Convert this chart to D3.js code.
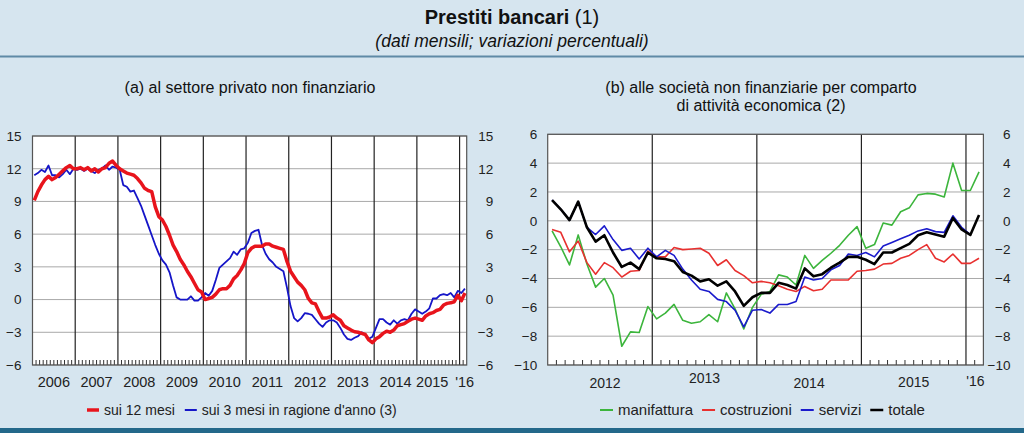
<!DOCTYPE html>
<html><head><meta charset="utf-8">
<script src="https://cdn.jsdelivr.net/npm/d3@7"></script>
<style>
html,body{margin:0;padding:0;background:#d6e5ef;}
svg{display:block;font-family:"Liberation Sans",Arial,sans-serif;}
</style></head>
<body><svg id="c" width="1024" height="433"></svg>
<script>
// ---------- DATA ----------
const leftYears = ["2006","2007","2008","2009","2010","2011","2012","2013","2014","2015","'16"];
const leftTicks = [-6,-3,0,3,6,9,12,15];
const leftSeriesNames = ["sui 12 mesi","sui 3 mesi in ragione d'anno (3)"];
// monthly, Jan 2006 - Feb 2016
const red12 = [
 9.1, 9.9,10.5,11.0,11.3,11.0,11.2,11.5,11.8,12.1,12.3,12.0,
 12.0,12.1,11.9,12.1,11.8,12.0,11.7,12.0,12.1,12.5,12.7,12.3,
 12.0,11.8,11.6,11.5,11.4,11.1,10.7,10.2,10.0, 9.9, 8.5, 7.6,
 7.3, 6.7, 5.9, 5.0, 4.4, 3.7, 3.2, 2.6, 2.1, 1.5, 0.9, 0.7,
 0.0, 0.1, 0.2, 0.5, 0.9, 1.0, 1.0, 1.3, 1.9, 2.2, 2.7, 3.3,
 4.3, 4.7, 4.9, 4.9, 4.9, 5.1, 5.1, 4.9, 4.8, 4.7, 4.6, 3.5,
 2.6, 2.1, 1.6, 1.3, 0.9, 0.1,-0.3,-0.4,-1.1,-1.7,-1.7,-1.6,
 -1.4,-1.7,-1.9,-2.4,-2.6,-2.8,-2.95,-3.0,-3.1,-3.2,-3.7,-3.95,
 -3.6,-3.4,-3.1,-2.9,-3.0,-2.8,-2.4,-2.3,-2.2,-2.0,-1.8,-1.7,
 -1.8,-1.9,-1.5,-1.3,-1.2,-1.0,-0.9,-0.5,-0.35,-0.3,-0.2,0.4,
 -0.1, 0.6];
const blue3 = [
 11.4,11.6,11.9,11.7,12.3,11.4,11.4,11.2,11.5,11.9,11.5,12.0,
 11.9,12.0,11.8,12.0,11.8,11.6,11.9,12.0,12.3,11.9,12.2,12.1,
 11.9,10.5,10.35,9.9,10.0, 9.3, 8.6, 7.7, 6.8, 5.9, 5.0, 4.2,
 3.6, 3.2, 2.5, 1.3, 0.2, 0.0, 0.0, 0.0, 0.3,-0.1,-0.1, 0.2,
 0.6, 0.35,0.8, 1.8, 2.9, 3.2, 3.5, 3.8, 4.4, 4.1, 4.6, 4.7,
 5.2, 6.1, 6.3, 6.4, 5.0, 4.2, 3.7, 3.4, 3.0, 2.8, 2.6, 1.1,
 -0.6,-1.7,-2.0,-1.7,-1.25,-1.3,-1.4,-1.8,-2.2,-2.5,-2.1,-1.9,
 -1.9,-2.1,-2.6,-3.2,-3.6,-3.7,-3.5,-3.35,-3.0,-3.2,-3.6,-3.4,
 -2.6,-1.8,-1.8,-2.1,-2.3,-1.9,-2.2,-1.9,-1.8,-1.9,-1.3,-0.9,
 -1.1,-1.3,-1.1,-0.8, 0.1, 0.1, 0.4, 0.5, 0.4, 0.6, 0.2, 0.8,
 0.6, 1.0];

const rightYears = ["2012","2013","2014","2015","'16"];
const rightTicks = [-10,-8,-6,-4,-2,0,2,4,6];
const rightSeriesNames = ["manifattura","costruzioni","servizi","totale"];
// monthly, Jan 2012 - Feb 2016
const manifattura = [
 -0.7,-1.8,-3.06,-0.98,-3.0,-4.6,-4.0,-5.15,-8.7,-7.7,-7.75,-5.95,
 -6.8,-6.4,-5.8,-6.9,-7.1,-7.0,-6.5,-7.0,-5.0,-6.1,-7.5,-6.0,
 -5.1,-4.9,-3.75,-3.9,-4.45,-2.4,-3.3,-2.75,-2.25,-1.7,-1.0,-0.4,
 -1.9,-1.65,-0.15,-0.3,0.63,0.9,1.8,1.9,1.85,1.65,4.0,2.1,
 2.1,3.4];
const costruzioni = [
 -0.6,-0.8,-2.15,-1.4,-2.9,-3.7,-2.9,-3.25,-3.9,-3.5,-3.45,-2.1,
 -2.5,-2.5,-1.85,-2.0,-1.95,-1.9,-2.25,-3.1,-2.7,-3.45,-3.8,-4.3,
 -4.2,-4.3,-4.5,-4.75,-4.9,-4.55,-4.85,-4.75,-4.1,-4.1,-4.1,-3.5,
 -3.45,-3.35,-3.0,-2.95,-2.6,-2.4,-2.0,-1.65,-2.6,-2.85,-2.3,-2.95,
 -2.95,-2.6];
const servizi = [
 1.44,0.8,0.05,1.33,-0.45,-0.95,-0.35,-1.3,-2.05,-1.9,-2.65,-1.9,
 -2.5,-2.05,-2.4,-3.35,-4.1,-4.75,-4.9,-5.45,-5.6,-6.2,-7.35,-6.2,
 -6.15,-6.4,-5.8,-5.8,-5.6,-3.9,-4.1,-4.0,-3.4,-3.1,-2.3,-2.4,
 -2.2,-2.5,-1.75,-1.5,-1.25,-1.0,-0.7,-0.55,-0.75,-0.8,0.35,-0.45,
 -0.95];
const totale = [
 1.44,0.8,0.05,1.33,-0.45,-1.44,-1.0,-2.2,-3.2,-2.9,-3.35,-2.2,
 -2.6,-2.65,-2.8,-3.55,-3.8,-4.2,-4.05,-4.5,-4.2,-4.9,-5.9,-5.3,
 -5.0,-5.0,-4.3,-4.45,-4.7,-3.3,-3.85,-3.7,-3.25,-2.9,-2.5,-2.5,
 -2.7,-3.0,-2.2,-2.2,-1.9,-1.6,-1.0,-0.8,-0.95,-1.1,0.2,-0.6,
 -0.98,0.4];

// ---------- DRAW ----------
const svg = d3.select("#c");
const FONT = "Liberation Sans, Arial, sans-serif";
svg.append("rect").attr("width",1024).attr("height",433).attr("fill","#d6e5ef");
svg.append("line").attr("x1",0).attr("x2",1024).attr("y1",56.5).attr("y2",56.5).attr("stroke","#5f8aa6").attr("stroke-width",2);
svg.append("rect").attr("x",0).attr("y",428).attr("width",1024).attr("height",5).attr("fill","#23688a");

const title = svg.append("text").attr("x",512).attr("y",24).attr("text-anchor","middle").attr("font-size",20).attr("fill","#111");
title.append("tspan").attr("font-weight","bold").text("Prestiti bancari");
title.append("tspan").text(" (1)");
svg.append("text").attr("x",512).attr("y",47).attr("text-anchor","middle").attr("font-size",17.5).attr("font-style","italic").attr("fill","#111")
  .text("(dati mensili; variazioni percentuali)");

svg.append("text").attr("x",250).attr("y",93).attr("text-anchor","middle").attr("font-size",16).attr("fill","#111")
  .text("(a) al settore privato non finanziario");
svg.append("text").attr("x",761).attr("y",93).attr("text-anchor","middle").attr("font-size",16).attr("fill","#111")
  .text("(b) alle società non finanziarie per comparto");
svg.append("text").attr("x",761).attr("y",111).attr("text-anchor","middle").attr("font-size",16).attr("fill","#111")
  .text("di attività economica (2)");

function panel(cfg){
  const {x0,x1,y0,y1,nMonths,ymin,ymax,ticks,years,series,labelL,labelR,yearDy,yearDx} = cfg;
  const x = d3.scaleLinear().domain([0,nMonths]).range([x0,x1]);
  const y = d3.scaleLinear().domain([ymin,ymax]).range([y1,y0]);
  const g = svg.append("g");
  g.append("rect").attr("x",x0).attr("y",y0).attr("width",x1-x0).attr("height",y1-y0).attr("fill","#fff");
  g.append("g").selectAll("line").data(ticks).join("line")
    .attr("x1",x0).attr("x2",x1).attr("y1",d=>y(d)).attr("y2",d=>y(d))
    .attr("stroke","#a9a9a9").attr("stroke-width",1);
  const months = d3.range(1,nMonths);
  g.append("g").selectAll("line").data(months.filter(m=>m%12!==0)).join("line")
    .attr("x1",d=>x(d)).attr("x2",d=>x(d)).attr("y1",y1).attr("y2",y1-5)
    .attr("stroke","#333").attr("stroke-width",1);
  g.append("g").selectAll("line").data(months.filter(m=>m%12===0)).join("line")
    .attr("x1",d=>x(d)).attr("x2",d=>x(d)).attr("y1",y0).attr("y2",y1)
    .attr("stroke","#222").attr("stroke-width",1.2);
  g.append("rect").attr("x",x0).attr("y",y0).attr("width",x1-x0).attr("height",y1-y0)
    .attr("fill","none").attr("stroke","#555").attr("stroke-width",1.2);
  const aL = d3.axisLeft(y).tickValues(ticks).tickSize(0).tickPadding(labelL).tickFormat(d3.format("d"));
  const gl = g.append("g").attr("transform",`translate(${x0},0)`).call(aL);
  const aR = d3.axisRight(y).tickValues(ticks).tickSize(0).tickFormat(d3.format("d"));
  const gr = g.append("g").attr("transform",`translate(${x1},0)`).call(aR);
  gr.selectAll("text").attr("x",labelR).attr("text-anchor","end");
  [gl,gr].forEach(a=>{ a.select(".domain").remove(); a.selectAll("text").attr("font-size",13.5).attr("font-family",FONT).attr("fill","#222"); });
  g.append("g").selectAll("text").data(years).join("text")
    .attr("x",(d,i)=> x(Math.min(i*12+6,nMonths)) + (yearDx?yearDx[i]:0))
    .attr("y",(d,i)=>y1+22+(yearDy?yearDy[i]:0))
    .attr("text-anchor","middle").attr("font-size",cfg.yearFont).attr("fill","#222").text(d=>d);
  series.forEach(s=>{
    const line = d3.line().x((d,i)=>x(i+0.5)).y(d=>y(d));
    g.append("path").datum(s.values).attr("d",line).attr("fill","none")
      .attr("stroke",s.color).attr("stroke-width",s.w).attr("stroke-linejoin","round");
  });
}

panel({x0:32.5,x1:466.7,y0:136,y1:365,nMonths:122,ymin:-6,ymax:15,ticks:leftTicks,years:leftYears,
  labelL:11,labelR:26.5,yearFont:14.5,yearDx:[0,0,0,0,0,0,0,0,0,-6,-2],
  series:[{values:blue3,color:"#1515c8",w:1.8},{values:red12,color:"#e8141c",w:3.5}]});
panel({x0:547.7,x1:983.4,y0:134.3,y1:365,nMonths:50,ymin:-10,ymax:6,ticks:rightTicks,years:rightYears,
  labelL:10.5,labelR:27,yearDy:[1,-4,1,0,-1],yearDx:[5,0,0,0,-8],yearFont:14,
  series:[{values:manifattura,color:"#3cb53c",w:1.6},{values:costruzioni,color:"#e8302f",w:1.6},
          {values:servizi,color:"#1a1acc",w:1.6},{values:totale,color:"#000",w:2.6}]});

function legend(items, startX, gap, sw, fs){
  let cx = startX;
  items.forEach(it=>{
    svg.append("line").attr("x1",cx).attr("x2",cx+sw).attr("y1",410).attr("y2",410)
      .attr("stroke",it.color).attr("stroke-width",it.w);
    const t = svg.append("text").attr("x",cx+sw+5).attr("y",415).attr("font-size",fs).attr("fill","#222").text(it.name);
    cx += sw + 5 + t.node().getComputedTextLength() + gap;
  });
}
legend([{name:leftSeriesNames[0],color:"#e8141c",w:3.5},{name:leftSeriesNames[1],color:"#1515c8",w:2}],87,10,12,14);
legend([{name:rightSeriesNames[0],color:"#3cb53c",w:2},{name:rightSeriesNames[1],color:"#e8302f",w:2},
        {name:rightSeriesNames[2],color:"#1a1acc",w:2},{name:rightSeriesNames[3],color:"#000",w:2.5}],600,9,13,15);
</script></body></html>
